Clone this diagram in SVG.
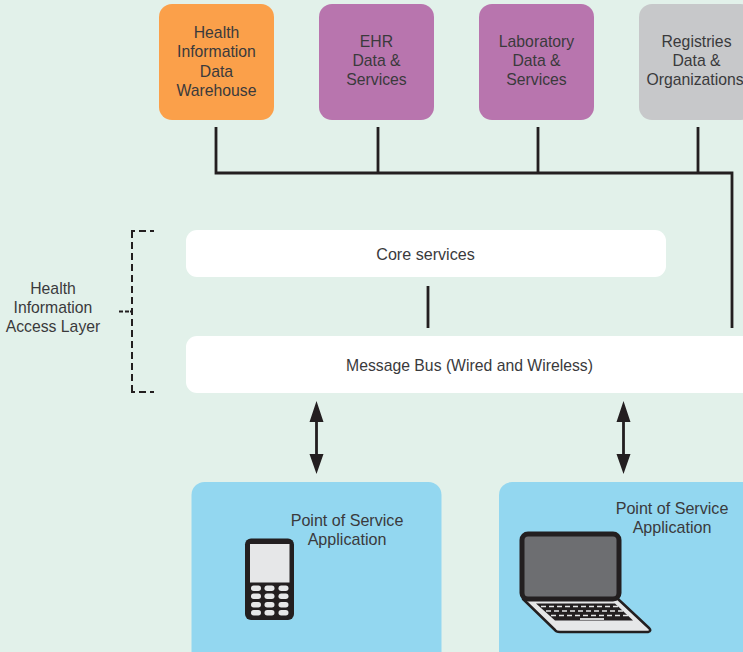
<svg xmlns="http://www.w3.org/2000/svg" width="743" height="652" viewBox="0 0 743 652">
<style>
text{font-family:"Liberation Sans",Arial,sans-serif;font-size:15.75px;fill:#3a3a3c;text-anchor:middle}
.wide{font-size:16.100px}
.ln{fill:none;stroke:#231f20;stroke-width:2.800}
.dash{fill:none;stroke:#231f20;stroke-width:2}
.key{fill:#e6e7e8}
</style>
<rect width="743" height="652" fill="#e2f1ea"/>
<g id="connectors">
<path class="ln" d="M216 127V173H732V328M378 127V173M538 127V173M698 127V173M428 286V328"/>
<path class="ln" d="M316.500 420V455M623.500 420V455"/>
<path d="M316.500 401L323.500 422H309.500ZM316.500 474L323.500 454H309.500ZM623.500 401L630.500 422H616.500ZM623.500 474L630.500 454H616.500Z" fill="#231f20"/>
</g>
<g id="bracket">
<path class="dash" stroke-dasharray="7 4" d="M132 392V231"/>
<path class="dash" d="M131 231H135M139 231H146M150 231H154M131 392H135M139 392H146M150 392H154"/>
<path class="dash" d="M119 311.500H123M125 311.500H129M130 311.500H132"/>
</g>
<g id="access-label">
<text x="53" y="293.500">Health</text><text x="53" y="312.500">Information</text><text x="53" y="331.500">Access Layer</text>
</g>
<g id="warehouse">
<rect x="159" y="4" width="115" height="116" rx="13" fill="#fba04a"/>
<text x="216.500" y="38">Health</text><text x="216.500" y="57">Information</text><text x="216.500" y="77">Data</text><text x="216.500" y="96">Warehouse</text>
</g>
<g id="ehr">
<rect x="319" y="4" width="115" height="116" rx="13" fill="#b875ae"/>
<text x="376.500" y="47">EHR</text><text x="376.500" y="66">Data &amp;</text><text x="376.500" y="85">Services</text>
</g>
<g id="laboratory">
<rect x="479" y="4" width="115" height="116" rx="13" fill="#b875ae"/>
<text x="536.500" y="47">Laboratory</text><text x="536.500" y="66">Data &amp;</text><text x="536.500" y="85">Services</text>
</g>
<g id="registries">
<rect x="639" y="4" width="115" height="116" rx="13" fill="#c7c8ca"/>
<text x="696.500" y="47">Registries</text><text x="696.500" y="66">Data &amp;</text><text x="695" y="85">Organizations</text>
</g>
<g id="core-services">
<rect x="186" y="230" width="480" height="47" rx="11" fill="#fff"/>
<text class="wide" x="425.500" y="259.500">Core services</text>
</g>
<g id="message-bus">
<rect x="186" y="336" width="570" height="57" rx="11" fill="#fff"/>
<text x="469.500" y="370.500">Message Bus (Wired and Wireless)</text>
</g>
<g id="pos-phone">
<rect x="191.500" y="482" width="250" height="186" rx="13" fill="#93d7f0"/>
<text class="wide" x="347" y="525.500">Point of Service</text><text class="wide" x="347" y="544.500">Application</text>
<rect x="245" y="538.500" width="49" height="81.500" rx="6" fill="#231f20"/>
<rect x="250" y="544" width="39.500" height="38.500" class="key"/>
<g class="key">
<rect x="251" y="585.500" width="10" height="5.500" rx="2.700"/><rect x="264.500" y="585.500" width="10" height="5.500" rx="2.700"/><rect x="278.500" y="585.500" width="10" height="5.500" rx="2.700"/>
<rect x="251" y="593.500" width="10" height="5.500" rx="2.700"/><rect x="264.500" y="593.500" width="10" height="5.500" rx="2.700"/><rect x="278.500" y="593.500" width="10" height="5.500" rx="2.700"/>
<rect x="251" y="602" width="10" height="5.500" rx="2.700"/><rect x="264.500" y="602" width="10" height="5.500" rx="2.700"/><rect x="278.500" y="602" width="10" height="5.500" rx="2.700"/>
<rect x="251" y="610" width="10" height="5.500" rx="2.700"/><rect x="264.500" y="610" width="10" height="5.500" rx="2.700"/><rect x="278.500" y="610" width="10" height="5.500" rx="2.700"/>
</g>
</g>
<g id="pos-laptop">
<rect x="499" y="482" width="260" height="186" rx="13" fill="#93d7f0"/>
<text class="wide" x="672" y="513.500">Point of Service</text><text class="wide" x="672" y="532.500">Application</text>
<path d="M523 599L555 630Q556 632 560 632H648Q652 631 649 628L618 599Z" fill="#e6e7e8" stroke="#231f20" stroke-width="2.500" stroke-linejoin="round"/>
<rect x="522" y="534" width="97" height="65" rx="6" fill="#6d6e71" stroke="#231f20" stroke-width="5"/>
<path d="M536 603.500H615L633 620.500H555Z" fill="#231f20"/>
<path d="M541 606.500H618M546 611H623M551 615.500H628" stroke="#e6e7e8" stroke-width="1.600" stroke-dasharray="5 3" fill="none"/>
<path d="M580 619H604" stroke="#e6e7e8" stroke-width="1.800" fill="none"/>
</g>
</svg>
